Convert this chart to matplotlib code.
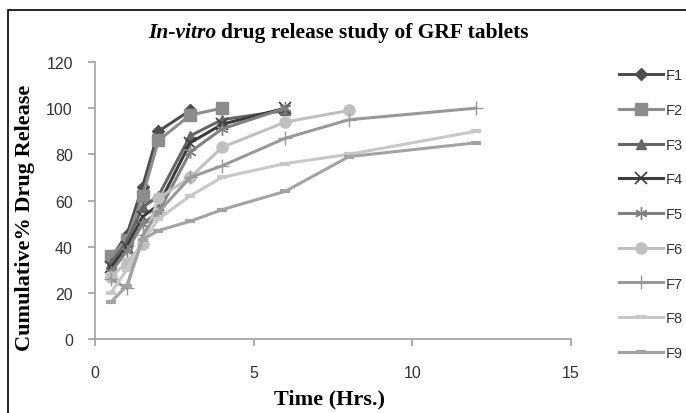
import matplotlib
matplotlib.use("Agg")
import matplotlib.pyplot as plt
from matplotlib.patches import Rectangle

time_pts = [0.5, 1, 1.5, 2, 3, 4, 6, 8, 12]
labels = ["F1", "F2", "F3", "F4", "F5", "F6", "F7", "F8", "F9"]
F1 = [35, 45, 66, 90, 99]
F2 = [36, 43, 62, 86, 97, 100]
F3 = [33, 42, 57, 62, 88, 95, 99]
F4 = [31, 40, 53, 58, 85, 93, 100]
F5 = [29, 38, 50, 55, 81, 91, 100]
F6 = [27, 33, 41, 61, 70, 83, 94, 99]
F7 = [26, 22, 45, 55, 70, 75, 87, 95, 100]
F8 = [20, 30, 42, 52, 62, 70, 76, 80, 90]
F9 = [16, 23, 43, 47, 51, 56, 64, 79, 85]
series = [F1, F2, F3, F4, F5, F6, F7, F8, F9]
x_ticks = [0, 5, 10, 15]
y_ticks = [0, 20, 40, 60, 80, 100, 120]

styles = [
    dict(color="#4d4d4d", marker="D", ms=6),
    dict(color="#8c8c8c", marker="s", ms=8),
    dict(color="#666666", marker="^", ms=7),
    dict(color="#3c3c3c", marker="x", ms=8, mew=1.2),
    dict(color="#808080", marker=(6, 2, 0), ms=9, mew=1.0),
    dict(color="#c0c0c0", marker="o", ms=8),
    dict(color="#999999", marker="+", ms=10, mew=1.0),
    dict(color="#c8c8c8", marker="_", ms=7, mew=3),
    dict(color="#a3a3a3", marker="_", ms=7, mew=3),
]

W, H = 686, 414
fig = plt.figure(figsize=(W / 100, H / 100), dpi=100)
fig.patches.append(Rectangle((8 / W, -0.05), 1.1, 1 - 11 / H + 0.05,
                             transform=fig.transFigure, fill=False,
                             edgecolor="black", linewidth=1.2))

ax = fig.add_axes([95 / W, (H - 340) / H, (571 - 95) / W, (340 - 63) / H])
for lab, vals, st in zip(labels, series, styles):
    ax.plot(time_pts[:len(vals)], vals, label=lab, color=st["color"],
            marker=st["marker"], markersize=st["ms"],
            markeredgewidth=st.get("mew", 1.0), linewidth=2.2,
            markerfacecolor=st["color"], markeredgecolor=st["color"])

ax.set_xlim(0, 15)
ax.set_ylim(0, 120)
ax.set_xticks(x_ticks)
ax.set_yticks(y_ticks)
for s in ["top", "right"]:
    ax.spines[s].set_visible(False)
for s in ["left", "bottom"]:
    ax.spines[s].set_color("#a0a0a0")
    ax.spines[s].set_linewidth(1.2)
ax.tick_params(direction="out", length=5, color="#a0a0a0", width=1.2,
               labelsize=11.5, labelcolor="#333333")
for t in ax.get_xticklabels() + ax.get_yticklabels():
    t.set_family("Liberation Sans")
ax.tick_params(axis="x", pad=14)
ax.tick_params(axis="y", pad=11)

title_y = 1 - 33 / H
t1 = fig.text(148 / W, title_y, "In-vitro", family="Liberation Serif",
              style="italic", weight="bold", fontsize=15.5, va="center", ha="left")
fig.canvas.draw()
bb = t1.get_window_extent()
fig.text((bb.x1 + 5) / W, title_y, "drug release study of GRF tablets",
         family="Liberation Serif", weight="bold", fontsize=15.5,
         va="center", ha="left")

fig.text(25 / W, 1 - 218 / H, "Cumulative% Drug Release", family="Liberation Serif",
         weight="bold", fontsize=16, rotation=90, va="center", ha="center")
fig.text(330 / W, 1 - 399 / H, "Time (Hrs.)", family="Liberation Serif",
         weight="bold", fontsize=16, va="center", ha="center")

leg = fig.legend(loc="upper left", bbox_to_anchor=(612 / W, 1 - 62 / H),
                 frameon=False, fontsize=10.5, handlelength=3.0,
                 labelspacing=1.42, handletextpad=0.2, borderpad=0)
for t in leg.get_texts():
    t.set_family("Liberation Sans")
    t.set_color("#333333")

fig.savefig("out.png", dpi=100)
